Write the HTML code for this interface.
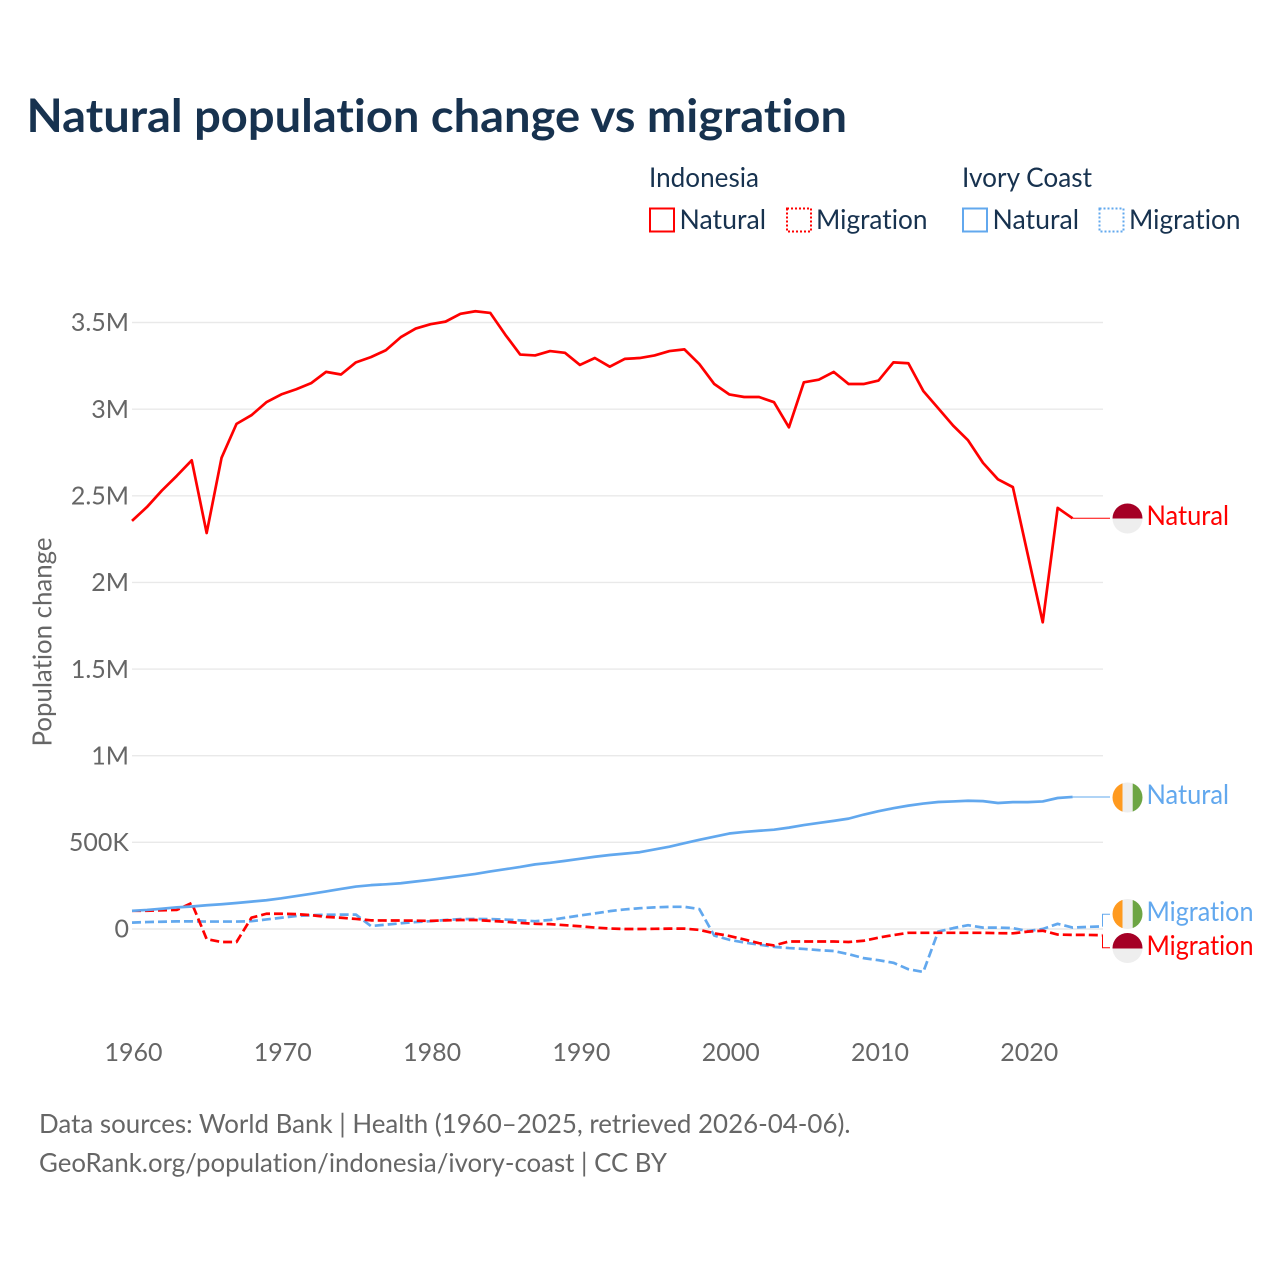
<!DOCTYPE html>
<html lang="en">
<head>
<meta charset="utf-8">
<title>Natural population change vs migration</title>
<style>
html,body{margin:0;padding:0;background:#fff;}
svg{display:block;}
text{font-family:"Lato","Carlito","Liberation Sans",sans-serif;font-variant-ligatures:none;}
</style>
</head>
<body>
<svg id="chart" xmlns="http://www.w3.org/2000/svg" width="1280" height="1280" viewBox="0 0 1280 1280">
  <rect x="0" y="0" width="1280" height="1280" fill="#ffffff"/>
  <text x="26.5" y="132" font-size="46" font-weight="700" fill="#17324f" textLength="820.5" lengthAdjust="spacingAndGlyphs">Natural population change vs migration</text>

  <g font-size="27" fill="#17324f">
    <text x="649" y="187" textLength="110" lengthAdjust="spacingAndGlyphs">Indonesia</text>
    <text x="962" y="187" textLength="130" lengthAdjust="spacingAndGlyphs">Ivory Coast</text>
    <rect x="650" y="208.5" width="24" height="23" fill="none" stroke="#ff0000" stroke-width="2"/>
    <text x="679.5" y="229" textLength="86.5" lengthAdjust="spacingAndGlyphs">Natural</text>
    <rect x="787" y="208.5" width="24" height="23" fill="none" stroke="#ff0000" stroke-width="2" stroke-dasharray="2 2"/>
    <text x="816" y="229" textLength="111.5" lengthAdjust="spacingAndGlyphs">Migration</text>
    <rect x="963" y="208.5" width="24" height="23" fill="none" stroke="#62a8ee" stroke-width="2"/>
    <text x="992.5" y="229" textLength="86.5" lengthAdjust="spacingAndGlyphs">Natural</text>
    <rect x="1099.5" y="208.5" width="24" height="23" fill="none" stroke="#62a8ee" stroke-width="2" stroke-dasharray="2 2"/>
    <text x="1129" y="229" textLength="111.5" lengthAdjust="spacingAndGlyphs">Migration</text>
  </g>

  <text transform="translate(51.5,642) rotate(-90)" text-anchor="middle" font-size="26" fill="#666666" textLength="209" lengthAdjust="spacingAndGlyphs">Population change</text>

  <g id="grid"></g>
  <g id="yticks"></g>
  <g id="xticks"></g>
  <g id="series"></g>

  <g>
    <clipPath id="clip-a"><circle cx="1127.5" cy="518.5" r="15"/></clipPath>
    <clipPath id="clip-b"><circle cx="1127.5" cy="797.5" r="15"/></clipPath>
    <clipPath id="clip-c"><circle cx="1127.5" cy="914" r="15"/></clipPath>
    <clipPath id="clip-d"><circle cx="1127.5" cy="948" r="15"/></clipPath>

    <g id="flag-id-natural" clip-path="url(#clip-a)">
      <rect x="1112" y="503" width="31" height="15.5" fill="#a50026"/>
      <rect x="1112" y="518.5" width="31" height="15.5" fill="#eeeeee"/>
    </g>
    <g id="flag-ci-natural" clip-path="url(#clip-b)">
      <rect x="1112" y="782" width="10.5" height="31" fill="#ff9a1f"/>
      <rect x="1122.5" y="782" width="10.2" height="31" fill="#eeeeee"/>
      <rect x="1132.7" y="782" width="10.5" height="31" fill="#6da544"/>
    </g>
    <g id="flag-ci-migration" clip-path="url(#clip-c)">
      <rect x="1112" y="899" width="10.5" height="31" fill="#ff9a1f"/>
      <rect x="1122.5" y="899" width="10.2" height="31" fill="#eeeeee"/>
      <rect x="1132.7" y="899" width="10.5" height="31" fill="#6da544"/>
    </g>
    <g id="flag-id-migration" clip-path="url(#clip-d)">
      <rect x="1112" y="933" width="31" height="15.5" fill="#a50026"/>
      <rect x="1112" y="948.5" width="31" height="15.5" fill="#eeeeee"/>
    </g>

    <text x="1146.5" y="525" font-size="27" fill="#ff0000" textLength="82.5" lengthAdjust="spacingAndGlyphs">Natural</text>
    <text x="1146.5" y="804" font-size="27" fill="#62a8ee" textLength="82.5" lengthAdjust="spacingAndGlyphs">Natural</text>
    <text x="1146.5" y="921" font-size="27" fill="#62a8ee" textLength="107" lengthAdjust="spacingAndGlyphs">Migration</text>
    <text x="1146.5" y="955" font-size="27" fill="#ff0000" textLength="107" lengthAdjust="spacingAndGlyphs">Migration</text>
  </g>

  <g font-size="26" fill="#666666">
    <text x="39" y="1133" textLength="811.5" lengthAdjust="spacingAndGlyphs">Data sources: World Bank | Health (1960–2025, retrieved 2026-04-06).</text>
    <text x="39" y="1172" textLength="628" lengthAdjust="spacingAndGlyphs">GeoRank.org/population/indonesia/ivory-coast | CC BY</text>
  </g>
</svg>

<script>
// Chart data (values in thousands of people)
const yearsNatural = [1960,1961,1962,1963,1964,1965,1966,1967,1968,1969,1970,1971,1972,1973,1974,1975,1976,1977,1978,1979,1980,1981,1982,1983,1984,1985,1986,1987,1988,1989,1990,1991,1992,1993,1994,1995,1996,1997,1998,1999,2000,2001,2002,2003,2004,2005,2006,2007,2008,2009,2010,2011,2012,2013,2014,2015,2016,2017,2018,2019,2020,2021,2022,2023];
const yearsMigration = [1960,1961,1962,1963,1964,1965,1966,1967,1968,1969,1970,1971,1972,1973,1974,1975,1976,1977,1978,1979,1980,1981,1982,1983,1984,1985,1986,1987,1988,1989,1990,1991,1992,1993,1994,1995,1996,1997,1998,1999,2000,2001,2002,2003,2004,2005,2006,2007,2008,2009,2010,2011,2012,2013,2014,2015,2016,2017,2018,2019,2020,2021,2022,2023,2024,2025];
const indonesiaNatural = [2355,2435,2530,2615,2705,2285,2720,2915,2965,3040,3085,3115,3150,3215,3200,3270,3300,3340,3415,3465,3490,3505,3550,3565,3555,3430,3315,3310,3335,3325,3255,3295,3245,3290,3295,3310,3335,3345,3260,3145,3085,3070,3070,3040,2895,3155,3170,3215,3145,3145,3165,3270,3265,3105,3005,2905,2820,2690,2595,2550,2160,1770,2430,2370];
const ivoryCoastNatural = [105,110,117,125,130,137,143,150,158,166,177,190,203,217,231,245,253,258,264,274,284,295,306,318,332,345,358,373,382,393,405,417,427,435,443,459,475,495,515,533,551,560,567,573,585,600,612,624,637,660,680,697,712,724,733,736,740,738,727,732,732,736,756,762];
const indonesiaMigration = [105,105,108,110,150,-58,-75,-75,65,88,88,86,80,70,65,58,50,49,49,48,47,50,52,52,47,42,35,30,28,22,16,8,3,0,0,1,2,2,-5,-25,-40,-60,-82,-95,-72,-72,-72,-72,-75,-68,-50,-35,-22,-22,-22,-22,-22,-22,-24,-25,-15,-10,-32,-34,-34,-36];
const ivoryCoastMigration = [37,40,42,44,44,43,43,43,45,55,65,75,80,82,83,83,17,25,33,40,45,52,57,58,57,54,50,45,52,65,78,90,103,113,120,125,128,128,115,-38,-62,-78,-90,-103,-110,-115,-122,-127,-145,-168,-180,-195,-232,-248,-15,5,22,8,8,5,-12,0,30,8,12,15];
const xTickLabels = [1960,1970,1980,1990,2000,2010,2020];
const yTickValues = [0,500,1000,1500,2000,2500,3000,3500];
const yTickLabels = ["0","500K","1M","1.5M","2M","2.5M","3M","3.5M"];

const SVGNS = "http://www.w3.org/2000/svg";
function xScale(year){ return 132 + (year - 1960) * 14.93; }
function yScale(v){ return 929 - v * (929 - 322.5) / 3500; }
function linePath(xs, ys){
  return xs.map(function(x, i){ return (i ? "L" : "M") + xScale(x).toFixed(2) + " " + yScale(ys[i]).toFixed(2); }).join("");
}

const gridG = document.getElementById("grid");
const yTickG = document.getElementById("yticks");
const xTickG = document.getElementById("xticks");
const seriesG = document.getElementById("series");

yTickValues.forEach(function(v, i){
  const ln = document.createElementNS(SVGNS, "line");
  
  
  ln.setAttribute("x1", 132);
  ln.setAttribute("x2", 1103);
  ln.setAttribute("y1", yScale(v));
  ln.setAttribute("y2", yScale(v));
  ln.setAttribute("stroke", "#e9e9e9");
  ln.setAttribute("stroke-width", 1.4);
  gridG.appendChild(ln);
  const t = document.createElementNS(SVGNS, "text");
  
  
  t.setAttribute("x", 129);
  t.setAttribute("y", yScale(v) + 8.7);
  t.setAttribute("text-anchor", "end");
  t.setAttribute("font-size", 25);
  t.setAttribute("fill", "#666666");
  t.textContent = yTickLabels[i];
  yTickG.appendChild(t);
});

xTickLabels.forEach(function(y){
  const t = document.createElementNS(SVGNS, "text");
  
  
  t.setAttribute("x", xScale(y) + 1.5);
  t.setAttribute("y", 1061);
  t.setAttribute("text-anchor", "middle");
  t.setAttribute("font-size", 25);
  t.setAttribute("fill", "#666666");
  t.textContent = String(y);
  xTickG.appendChild(t);
});

function addLine(name, xs, ys, color, dash){
  const p = document.createElementNS(SVGNS, "path");
  
  
  p.setAttribute("d", linePath(xs, ys));
  p.setAttribute("fill", "none");
  p.setAttribute("stroke", color);
  p.setAttribute("stroke-width", 2.7);
  p.setAttribute("stroke-linejoin", "round");
  if (dash) p.setAttribute("stroke-dasharray", dash);
  seriesG.appendChild(p);
}

function addConnector(name, pts, color){
  const p = document.createElementNS(SVGNS, "polyline");
  
  
  p.setAttribute("points", pts.map(function(c){ return c[0].toFixed(2) + "," + c[1].toFixed(2); }).join(" "));
  p.setAttribute("fill", "none");
  p.setAttribute("stroke", color);
  p.setAttribute("stroke-width", 1);
  seriesG.appendChild(p);
}

addLine("line-ivory-coast-migration", yearsMigration, ivoryCoastMigration, "#62a8ee", "9 4");
addLine("line-indonesia-migration", yearsMigration, indonesiaMigration, "#ff0000", "9 4");
addLine("line-ivory-coast-natural", yearsNatural, ivoryCoastNatural, "#62a8ee", null);
addLine("line-indonesia-natural", yearsNatural, indonesiaNatural, "#ff0000", null);

const lastN = yearsNatural.length - 1;
const lastM = yearsMigration.length - 1;
addConnector("connector-indonesia-natural", [[xScale(yearsNatural[lastN]), yScale(indonesiaNatural[lastN])], [1110, yScale(indonesiaNatural[lastN])]], "#ff0000");
addConnector("connector-ivory-coast-natural", [[xScale(yearsNatural[lastN]), yScale(ivoryCoastNatural[lastN])], [1110, yScale(ivoryCoastNatural[lastN])]], "#62a8ee");
addConnector("connector-ivory-coast-migration", [[xScale(yearsMigration[lastM]), yScale(ivoryCoastMigration[lastM])], [1102.5, yScale(ivoryCoastMigration[lastM])], [1102.5, 914.3], [1110, 914.3]], "#62a8ee");
addConnector("connector-indonesia-migration", [[xScale(yearsMigration[lastM]), yScale(indonesiaMigration[lastM])], [1102.5, yScale(indonesiaMigration[lastM])], [1102.5, 947.7], [1110, 947.7]], "#ff0000");
</script>
</body>
</html>
